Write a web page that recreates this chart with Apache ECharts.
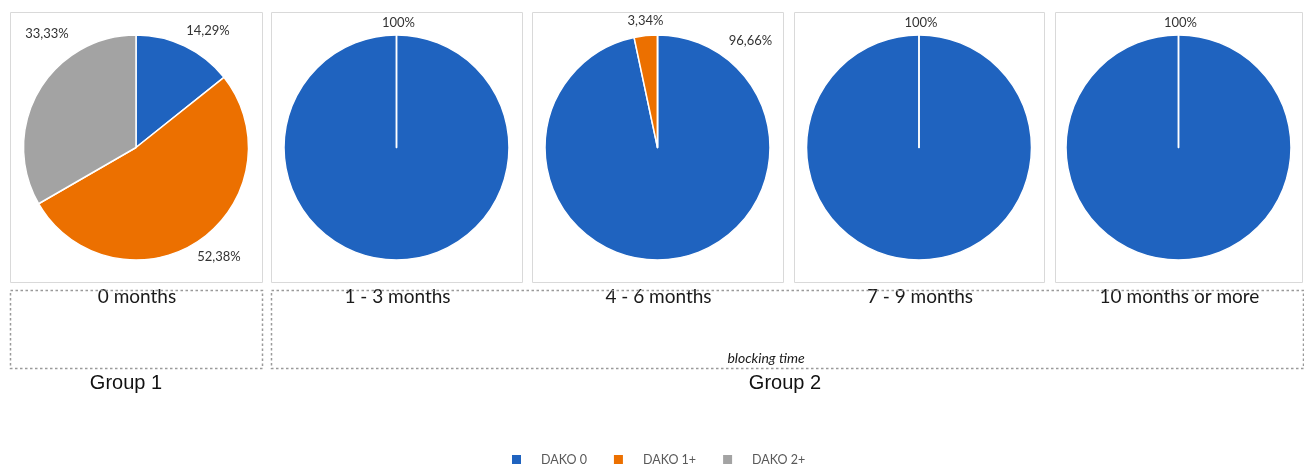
<!DOCTYPE html>
<html>
<head>
<meta charset="utf-8">
<script src="https://cdn.jsdelivr.net/npm/echarts@6/dist/echarts.min.js"></script>
<style>
html,body{margin:0;padding:0;background:#fff;}
#chart{width:1304px;height:468px;}
</style>
</head>
<body>
<div id="chart"></div>
<script>
// ---- data ----
const categories = ['0 months', '1 - 3 months', '4 - 6 months', '7 - 9 months', '10 months or more'];
const seriesNames = ['DAKO 0', 'DAKO 1+', 'DAKO 2+'];
const dako0 = [14.29, 100, 96.66, 100, 100];
const dako1 = [52.38, 0, 3.34, 0, 0];
const dako2 = [33.33, 0, 0, 0, 0];
const groupNames = ['Group 1', 'Group 2'];
const groupSubtitle = ['', 'blocking time'];

// ---- layout / style ----
const colors = ['#1f63bf', '#ec7000', '#a3a3a3'];
const panels = [[10, 262], [271, 522], [532, 783], [794, 1044], [1055, 1302]];
const panelTop = 12, panelBottom = 282;
const pieCy = 147.5, pieR = 112.5;
const groupBoxes = [[10, 262], [271, 1303]];
const groupTop = 290, groupBottom = 368;
// label offsets from pie centre (per panel, per slice)
const labelOffsets = [
  [[72, -117], [83, 109], [-89, -114]],
  [[2, -125], null, null],
  [[93, -107], [-12, -127], null],
  [[2, -125], null, null],
  [[2, -125], null, null]
];

function fmt(v) {
  if (v === 100) return '100%';
  return v.toFixed(2).replace('.', ',') + '%';
}

const chart = echarts.init(document.getElementById('chart'), null, {renderer: 'canvas'});

const series = categories.map((cat, i) => {
  const cx = (panels[i][0] + panels[i][1]) / 2;
  const vals = [dako0[i], dako1[i], dako2[i]];
  return {
    type: 'pie',
    name: cat,
    center: [cx, pieCy],
    radius: [0, pieR],
    startAngle: 90,
    clockwise: true,
    minAngle: 0,
    avoidLabelOverlap: false,
    stillShowZeroSum: true,
    silent: true,
    animation: false,
    itemStyle: {borderColor: '#ffffff', borderWidth: 1.5},
    label: {
      show: true,
      position: 'outside',
      formatter: p => (p.value > 0 ? fmt(p.value) : ''),
      fontFamily: 'Lato',
      fontSize: 13,
      color: '#333333'
    },
    labelLine: {show: false},
    labelLayout: function (params) {
      const off = labelOffsets[i][params.dataIndex];
      if (!off) return {};
      return {x: cx + off[0], y: pieCy + off[1], align: 'center', verticalAlign: 'middle'};
    },
    emphasis: {disabled: true},
    data: vals.map((v, k) => ({name: seriesNames[k], value: v, itemStyle: {color: colors[k]}}))
  };
});

const graphics = [];
panels.forEach((p, i) => {
  graphics.push({
    type: 'rect', silent: true,
    shape: {x: p[0] + 0.5, y: panelTop + 0.5, width: p[1] - p[0], height: panelBottom - panelTop},
    style: {fill: null, stroke: '#d9d9d9', lineWidth: 1}
  });
  graphics.push({
    type: 'text', silent: true,
    x: (p[0] + p[1]) / 2 + 1, y: 297,
    style: {text: categories[i], fontFamily: 'Lato', fontSize: 19, fill: '#1a1a1a', align: 'center', verticalAlign: 'middle'}
  });
});
groupBoxes.forEach((g, i) => {
  graphics.push({
    type: 'rect', silent: true,
    shape: {x: g[0] + 0.5, y: groupTop + 0.5, width: g[1] - g[0], height: groupBottom - groupTop},
    style: {fill: null, stroke: '#9a9a9a', lineWidth: 1.5, lineDash: [2.5, 2.5]}
  });
  graphics.push({
    type: 'text', silent: true,
    x: i === 0 ? 126 : 785, y: 383,
    style: {text: groupNames[i], fontFamily: 'Liberation Sans', fontSize: 20, fill: '#111', align: 'center', verticalAlign: 'middle'}
  });
  if (groupSubtitle[i]) {
    graphics.push({
      type: 'text', silent: true,
      x: 766, y: 358,
      style: {text: groupSubtitle[i], fontFamily: 'Lato', fontStyle: 'italic', fontSize: 14, fill: '#1a1a1a', align: 'center', verticalAlign: 'middle'}
    });
  }
});

chart.setOption({
  animation: false,
  color: colors,
  legend: {
    data: seriesNames,
    left: 510,
    top: 453,
    padding: 0,
    icon: 'rect',
    itemWidth: 11,
    itemHeight: 11,
    itemGap: 25,
    selectedMode: false,
    textStyle: {fontFamily: 'Lato', fontSize: 12.5, color: '#595959', padding: [0, 0, 0, 14]}
  },
  graphic: graphics,
  series: series
});
</script>
</body>
</html>
